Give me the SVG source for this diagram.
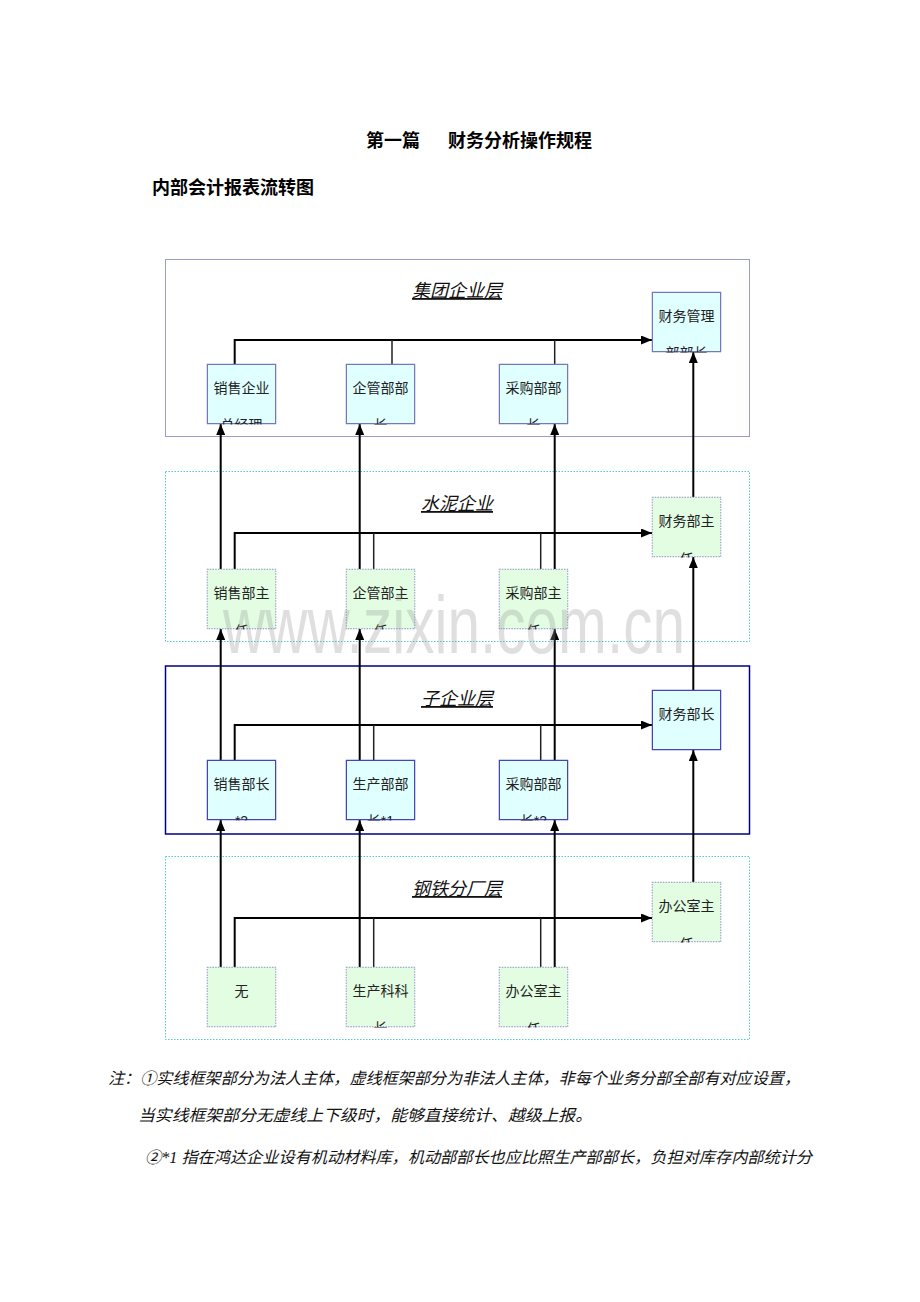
<svg xmlns="http://www.w3.org/2000/svg" width="920" height="1302" viewBox="0 0 920 1302">
<style>
  .h{font-family:"Liberation Sans","Noto Sans CJK SC",sans-serif;font-weight:bold;font-size:18px;fill:#000}
  .lt{font-family:"Liberation Sans","Noto Sans CJK SC",sans-serif;font-style:italic;font-size:18px;text-decoration:underline;text-anchor:middle;fill:#111}
  .nt{font-family:"Liberation Sans","Noto Sans CJK SC",sans-serif;font-size:14px;text-anchor:middle;fill:#222}
  .note{font-family:"Liberation Serif","Noto Sans CJK SC",serif;font-style:italic;font-size:16px;fill:#111}
  .wm{font-family:"Liberation Sans",sans-serif;font-size:82px;fill:#999;opacity:0.3}
  .s1 rect{fill:#e0ffff;stroke:#7777bb;stroke-width:1.5}
  .s3 rect{fill:#e0ffff;stroke:#4545bb;stroke-width:1.5}
  .d rect{fill:#e2fde2;stroke:#8f8fcc;stroke-width:1.2;stroke-dasharray:1.5 1.2}
  .layer{fill:none}
  .l1{stroke:#9d9dd0;stroke-width:1}
  .ld{stroke:#55c8c8;stroke-width:1;stroke-dasharray:1.5 1.5}
  .l3{stroke:#000080;stroke-width:1.5}
  .main{stroke:#000;stroke-width:2;fill:none}
  .br{stroke:#222;stroke-width:1.5;fill:none}
</style>
<defs>
  <marker id="ah" viewBox="0 0 11 9" refX="11" refY="4.5" markerWidth="11" markerHeight="9" markerUnits="userSpaceOnUse" orient="auto">
    <path d="M0,0L11,4.5L0,9z" fill="#000"/>
  </marker>
</defs>
<rect width="920" height="1302" fill="#fff"/>

<g id="headings">
  <text class="h" y="147"><tspan x="366">第一篇</tspan><tspan x="448">财务分析操作规程</tspan></text>
  <text class="h" x="152" y="194">内部会计报表流转图</text>
</g>

<g id="layers">
  <g id="layer-jituan"><rect class="layer l1" x="165.5" y="259.5" width="584" height="177"/><text class="lt" x="457" y="297">集团企业层</text></g>
  <g id="layer-shuini"><rect class="layer ld" x="165.5" y="471.5" width="584" height="170"/><text class="lt" x="457" y="510">水泥企业</text></g>
  <g id="layer-zi"><rect class="layer l3" x="165.5" y="666" width="584" height="168"/><text class="lt" x="457" y="705">子企业层</text></g>
  <g id="layer-gangtie"><rect class="layer ld" x="165.5" y="856.5" width="584" height="183"/><text class="lt" x="457" y="895">钢铁分厂层</text></g>
</g>

<g id="connectors">
  <path class="main" d="M234.7,364V340H652" marker-end="url(#ah)"/>
  <path class="br" d="M392,364V340M554.7,364V340"/>
  <path class="main" d="M234.7,569V533H652" marker-end="url(#ah)"/>
  <path class="br" d="M373.7,569V533M540.7,569V533"/>
  <path class="main" d="M234.7,760V725H652" marker-end="url(#ah)"/>
  <path class="br" d="M373.7,760V725M540.7,760V725"/>
  <path class="main" d="M234.7,967V918H652" marker-end="url(#ah)"/>
  <path class="br" d="M373.7,967V918M540.7,967V918"/>
  <path class="main" d="M220.7,569V424" marker-end="url(#ah)"/>
  <path class="main" d="M359.7,569V424" marker-end="url(#ah)"/>
  <path class="main" d="M554.7,569V424" marker-end="url(#ah)"/>
  <path class="main" d="M693.3,497V352" marker-end="url(#ah)"/>
  <path class="main" d="M220.7,760V629" marker-end="url(#ah)"/>
  <path class="main" d="M359.7,760V629" marker-end="url(#ah)"/>
  <path class="main" d="M554.7,760V629" marker-end="url(#ah)"/>
  <path class="main" d="M693.3,690V557" marker-end="url(#ah)"/>
  <path class="main" d="M220.7,967V820" marker-end="url(#ah)"/>
  <path class="main" d="M359.7,967V820" marker-end="url(#ah)"/>
  <path class="main" d="M554.7,967V820" marker-end="url(#ah)"/>
  <path class="main" d="M693.3,882V750" marker-end="url(#ah)"/>
</g>

<g id="nodes">
  <g id="node-xszjl"><svg class="s1" x="206.5" y="363.5" width="70" height="61"><rect x="0.75" y="0.75" width="68.5" height="59.5"/><text class="nt" x="35" y="29">销售企业</text><text class="nt" x="35" y="66">总经理</text></svg></g>
  <g id="node-qgbz1"><svg class="s1" x="345.5" y="363.5" width="70" height="61"><rect x="0.75" y="0.75" width="68.5" height="59.5"/><text class="nt" x="35" y="29">企管部部</text><text class="nt" x="35" y="66">长</text></svg></g>
  <g id="node-cgbz1"><svg class="s1" x="498.5" y="363.5" width="70" height="61"><rect x="0.75" y="0.75" width="68.5" height="59.5"/><text class="nt" x="35" y="29">采购部部</text><text class="nt" x="35" y="66">长</text></svg></g>
  <g id="node-cwglbbz"><svg class="s1" x="651.5" y="291.5" width="70" height="61"><rect x="0.75" y="0.75" width="68.5" height="59.5"/><text class="nt" x="35" y="29">财务管理</text><text class="nt" x="35" y="66">部部长</text></svg></g>

  <g id="node-xsbzr"><svg class="d" x="206.5" y="568.5" width="70" height="61"><rect x="0.6" y="0.6" width="68.8" height="59.8"/><text class="nt" x="35" y="29">销售部主</text><text class="nt" x="35" y="67">任</text></svg></g>
  <g id="node-qgbzr"><svg class="d" x="345.5" y="568.5" width="70" height="61"><rect x="0.6" y="0.6" width="68.8" height="59.8"/><text class="nt" x="35" y="29">企管部主</text><text class="nt" x="35" y="67">任</text></svg></g>
  <g id="node-cgbzr"><svg class="d" x="498.5" y="568.5" width="70" height="61"><rect x="0.6" y="0.6" width="68.8" height="59.8"/><text class="nt" x="35" y="29">采购部主</text><text class="nt" x="35" y="67">任</text></svg></g>
  <g id="node-cwbzr"><svg class="d" x="651.5" y="496.5" width="70" height="61"><rect x="0.6" y="0.6" width="68.8" height="59.8"/><text class="nt" x="35" y="29">财务部主</text><text class="nt" x="35" y="67">任</text></svg></g>

  <g id="node-xsbz"><svg class="s3" x="206.5" y="759.5" width="70" height="61"><rect x="0.75" y="0.75" width="68.5" height="59.5"/><text class="nt" x="35" y="29">销售部长</text><text class="nt" x="35" y="66">*2</text></svg></g>
  <g id="node-scbz"><svg class="s3" x="345.5" y="759.5" width="70" height="61"><rect x="0.75" y="0.75" width="68.5" height="59.5"/><text class="nt" x="35" y="29">生产部部</text><text class="nt" x="35" y="66">长*1</text></svg></g>
  <g id="node-cgbz3"><svg class="s3" x="498.5" y="759.5" width="70" height="61"><rect x="0.75" y="0.75" width="68.5" height="59.5"/><text class="nt" x="35" y="29">采购部部</text><text class="nt" x="35" y="66">长*2</text></svg></g>
  <g id="node-cwbz"><svg class="s3" x="651.5" y="689.5" width="70" height="61"><rect x="0.75" y="0.75" width="68.5" height="59.5"/><text class="nt" x="35" y="29">财务部长</text></svg></g>

  <g id="node-wu"><svg class="d" x="206.5" y="966.5" width="70" height="61"><rect x="0.6" y="0.6" width="68.8" height="59.8"/><text class="nt" x="35" y="29">无</text></svg></g>
  <g id="node-sckkz"><svg class="d" x="345.5" y="966.5" width="70" height="61"><rect x="0.6" y="0.6" width="68.8" height="59.8"/><text class="nt" x="35" y="29">生产科科</text><text class="nt" x="35" y="66">长</text></svg></g>
  <g id="node-bgszr4"><svg class="d" x="498.5" y="966.5" width="70" height="61"><rect x="0.6" y="0.6" width="68.8" height="59.8"/><text class="nt" x="35" y="29">办公室主</text><text class="nt" x="35" y="67">任</text></svg></g>
  <g id="node-bgszr"><svg class="d" x="651.5" y="881.5" width="70" height="61"><rect x="0.6" y="0.6" width="68.8" height="59.8"/><text class="nt" x="35" y="29">办公室主</text><text class="nt" x="35" y="67">任</text></svg></g>
</g>

<text class="wm" x="223" y="653" textLength="462" lengthAdjust="spacingAndGlyphs">www.zixin.com.cn</text>

<g id="notes">
  <text class="note" x="108" y="1084" textLength="692" lengthAdjust="spacingAndGlyphs">注：①实线框架部分为法人主体，虚线框架部分为非法人主体，非每个业务分部全部有对应设置，</text>
  <text class="note" x="138" y="1121" textLength="454" lengthAdjust="spacingAndGlyphs">当实线框架部分无虚线上下级时，能够直接统计、越级上报。</text>
  <text class="note" x="145" y="1163" textLength="667" lengthAdjust="spacingAndGlyphs">②*1 指在鸿达企业设有机动材料库，机动部部长也应比照生产部部长，负担对库存内部统计分</text>
</g>
</svg>
